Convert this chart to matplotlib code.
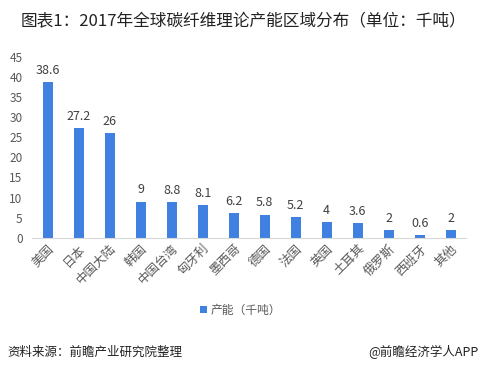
import matplotlib
matplotlib.use("Agg")
import matplotlib.pyplot as plt

plt.rcParams['font.family'] = ['Noto Sans CJK SC', 'DejaVu Sans']

regions = ["美国", "日本", "中国大陆", "韩国", "中国台湾", "匈牙利", "墨西哥",
           "德国", "法国", "英国", "土耳其", "俄罗斯", "西班牙", "其他"]
capacity = [38.6, 27.2, 26, 9, 8.8, 8.1, 6.2, 5.8, 5.2, 4, 3.6, 2, 0.6, 2]
value_labels = ["38.6", "27.2", "26", "9", "8.8", "8.1", "6.2", "5.8", "5.2", "4", "3.6", "2", "0.6", "2"]

bar_color = '#3F80E0'

fig = plt.figure(figsize=(4.81, 3.70), dpi=100)
ax = fig.add_axes([0.067, 0.357, 0.902, 0.49])

x = range(len(regions))
ax.bar(x, capacity, width=0.32, color=bar_color, label="产能（千吨）")
for i, v in enumerate(capacity):
    ax.text(i, v + 1.3, value_labels[i], ha='center', va='bottom', fontsize=9, color='#404040')

ax.set_xlim(-0.5, len(regions) - 0.5)
ax.set_ylim(0, 45)
ax.set_yticks(range(0, 46, 5))
ax.tick_params(axis='y', length=0, labelsize=8.5, labelcolor='#595959', pad=7)
ax.tick_params(axis='x', length=0, labelsize=9, labelcolor='#595959', pad=3)
ax.set_xticks(list(x))
ax.set_xticklabels(regions, rotation=45, ha='right', rotation_mode='anchor')
for s in ['top', 'right', 'left']:
    ax.spines[s].set_visible(False)
ax.spines['bottom'].set_color('#D9D9D9')

fig.text(0.042, 0.94, "图表1：2017年全球碳纤维理论产能区域分布（单位：千吨）", fontsize=12, color='#222222', va='center')

fig.legend(loc='center', bbox_to_anchor=(0.5, 0.162), frameon=False, fontsize=8.5,
           handlelength=0.6, handleheight=0.6, handletextpad=0.3, labelcolor='#595959')

fig.text(0.015, 0.048, "资料来源：前瞻产业研究院整理", fontsize=9, style='italic', color='#222222', va='center')
fig.text(0.995, 0.048, "@前瞻经济学人APP", fontsize=9, color='#222222', va='center', ha='right')

fig.savefig("out.png", dpi=100)
